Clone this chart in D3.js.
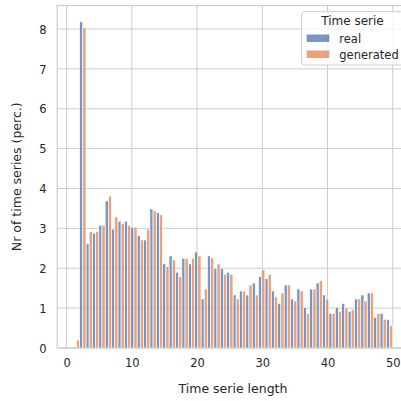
<!DOCTYPE html>
<html>
<head>
<meta charset="utf-8">
<script src="https://cdn.jsdelivr.net/npm/d3@7"></script>
<style>
  html, body { margin: 0; padding: 0; background: #ffffff; }
  svg { display: block; font-family: "DejaVu Sans", sans-serif; }
</style>
</head>
<body>
<svg id="chart" width="401" height="401"></svg>
<script>
// Time serie lengths (one histogram bin per length)
const lengths = d3.range(1, 51);

// Share of time series per length, in percent
const realPerc = [
  0.00, 8.18, 2.62, 2.88, 3.08, 3.69, 2.98, 3.18, 3.18, 3.03,
  2.82, 2.71, 3.49, 3.39, 2.11, 2.31, 1.90, 2.25, 2.11, 2.41,
  1.23, 2.31, 2.00, 2.00, 1.90, 1.33, 1.43, 1.33, 1.63, 1.79,
  1.74, 1.43, 1.12, 1.58, 1.23, 1.48, 1.02, 1.48, 1.63, 1.33,
  0.87, 1.02, 1.12, 0.92, 1.23, 1.33, 1.38, 0.77, 0.87, 0.72
];
const generatedPerc = [
  0.20, 8.03, 2.92, 2.92, 3.08, 3.81, 3.29, 3.13, 3.08, 3.03,
  2.71, 2.98, 3.44, 3.34, 2.04, 2.21, 1.79, 2.25, 2.25, 2.31,
  1.48, 2.26, 2.11, 1.85, 1.85, 1.23, 1.43, 1.58, 1.33, 1.96,
  1.84, 1.28, 1.38, 1.58, 1.18, 1.43, 0.87, 1.48, 1.69, 1.23,
  0.87, 0.92, 1.02, 0.97, 1.23, 1.18, 1.38, 0.87, 0.72, 0.57
];

const seriesNames = ["real", "generated"];
const seriesColors = ["#4c72b0", "#dd8452"];
const xTicks = [0, 10, 20, 30, 40, 50];
const yTicks = [0, 1, 2, 3, 4, 5, 6, 7, 8];

const svg = d3.select("#chart");
const plot = { left: 57.2, right: 408.7, top: 5.5, bottom: 348 };

// Bin edges spanning the observed length range
const lo = d3.min(lengths), hi = d3.max(lengths);
const nBins = lengths.length;
const binW = (hi - lo) / nBins;
const edges = d3.range(nBins + 1).map(k => lo + k * binW);

const span = hi - lo;
const x = d3.scaleLinear()
  .domain([lo - 0.05 * span, hi + 0.05 * span])
  .range([plot.left, plot.right]);
const yMax = d3.max([...realPerc, ...generatedPerc]) * 1.05;
const y = d3.scaleLinear()
  .domain([0, yMax])
  .range([plot.bottom, plot.top]);

const gridColor = "#cccccc";
const textColor = "#262626";

// Grid
const grid = svg.append("g");
grid.selectAll("line.gx").data(xTicks).join("line")
  .attr("x1", d => x(d)).attr("x2", d => x(d))
  .attr("y1", plot.top).attr("y2", plot.bottom)
  .attr("stroke", gridColor).attr("stroke-width", 1);
grid.selectAll("line.gy").data(yTicks).join("line")
  .attr("x1", plot.left).attr("x2", plot.right)
  .attr("y1", d => y(d)).attr("y2", d => y(d))
  .attr("stroke", gridColor).attr("stroke-width", 1);

// Dodged histogram bars
const seriesData = [realPerc, generatedPerc];
const bars = svg.append("g");
seriesData.forEach((vals, s) => {
  bars.append("g").selectAll("rect").data(vals).join("rect")
    .attr("x", (d, i) => x(edges[i] + s * binW / 2))
    .attr("width", (d, i) => x(edges[i] + (s + 1) * binW / 2) - x(edges[i] + s * binW / 2))
    .attr("y", d => y(d))
    .attr("height", d => y(0) - y(d))
    .attr("fill", seriesColors[s])
    .attr("fill-opacity", 0.75)
    .attr("stroke", "#ffffff")
    .attr("stroke-width", 0.7);
});

// Frame
svg.append("rect")
  .attr("x", plot.left).attr("y", plot.top)
  .attr("width", plot.right - plot.left).attr("height", plot.bottom - plot.top)
  .attr("fill", "none").attr("stroke", gridColor).attr("stroke-width", 1.2);

// Axes (tick labels only, whitegrid style)
const xAxis = d3.axisBottom(x).tickValues(xTicks).tickSize(0).tickPadding(0);
const gx = svg.append("g").attr("transform", `translate(0,${plot.bottom})`).call(xAxis);
gx.select(".domain").remove();
gx.selectAll("text").attr("dy", null).attr("y", 18.7)
  .attr("fill", textColor).style("font-size", "11.5px").style("font-family", "DejaVu Sans");

const yAxis = d3.axisLeft(y).tickValues(yTicks).tickSize(0).tickPadding(0);
const gy = svg.append("g").attr("transform", `translate(${plot.left},0)`).call(yAxis);
gy.select(".domain").remove();
gy.selectAll("text").attr("x", -10.5).attr("dy", "0.36em")
  .attr("fill", textColor).style("font-size", "11.5px").style("font-family", "DejaVu Sans");

// Axis titles
svg.append("text")
  .attr("x", (plot.left + plot.right) / 2).attr("y", 393)
  .attr("text-anchor", "middle").attr("fill", textColor)
  .style("font-size", "12.5px")
  .text("Time serie length");
svg.append("text")
  .attr("transform", `translate(21,${(plot.top + plot.bottom) / 2}) rotate(-90)`)
  .attr("text-anchor", "middle").attr("fill", textColor)
  .style("font-size", "12.5px")
  .text("Nr of time series (perc.)");

// Legend
const lg = svg.append("g");
lg.append("rect")
  .attr("x", 301.7).attr("y", 11.7).attr("width", 102).attr("height", 53.3)
  .attr("rx", 3).attr("fill", "#ffffff").attr("fill-opacity", 0.8)
  .attr("stroke", gridColor).attr("stroke-width", 1);
lg.append("text")
  .attr("x", 352.5).attr("y", 25)
  .attr("text-anchor", "middle").attr("fill", textColor)
  .style("font-size", "12px")
  .text("Time serie");
seriesNames.forEach((name, i) => {
  const yy = 34.5 + i * 16;
  lg.append("rect")
    .attr("x", 306.7).attr("y", yy).attr("width", 22.6).attr("height", 7.5)
    .attr("fill", seriesColors[i]).attr("fill-opacity", 0.75);
  lg.append("text")
    .attr("x", 339.3).attr("y", yy + 8.2)
    .attr("fill", textColor)
    .style("font-size", "11.5px")
    .text(name);
});
</script>
</body>
</html>
